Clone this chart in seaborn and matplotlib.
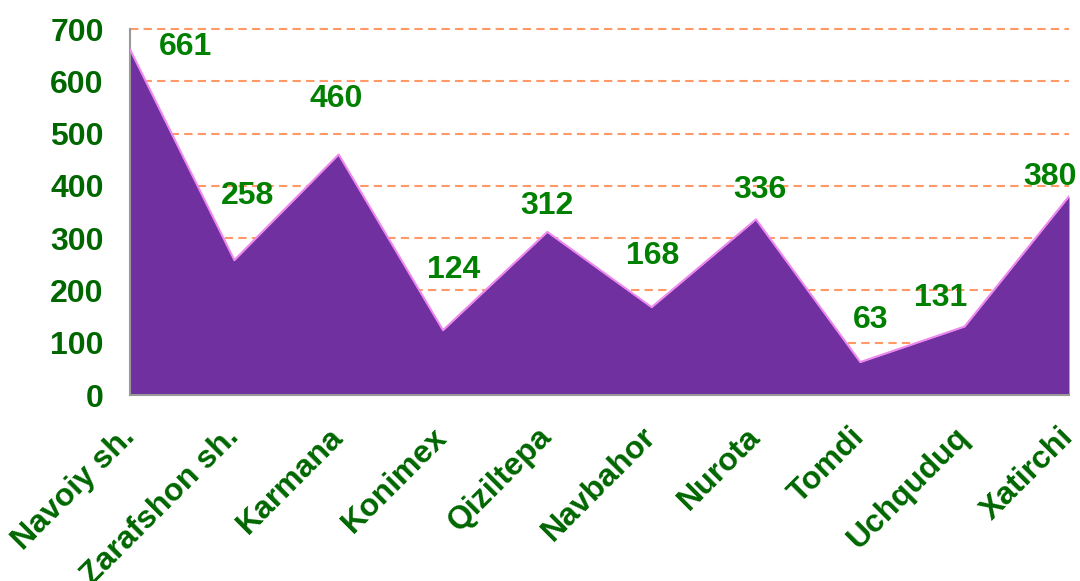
import numpy as np
import pandas as pd
import seaborn as sns
import matplotlib.pyplot as plt

districts = ["Navoiy sh.", "Zarafshon sh.", "Karmana", "Konimex", "Qiziltepa",
             "Navbahor", "Nurota", "Tomdi", "Uchquduq", "Xatirchi"]
values = [661, 258, 460, 124, 312, 168, 336, 63, 131, 380]
y_ticks = [0, 100, 200, 300, 400, 500, 600, 700]

# label offsets in pixels (dx, dy) to mimic the original label placement
label_offsets = [(55, 2), (13, 64), (-3, 56), (11, 60), (0, 26),
                 (1, 51), (4, 29), (10, 42), (-24, 29), (-19, 19)]

data = pd.DataFrame({"district": districts, "value": values})
data["pos"] = np.arange(len(data))

sns.set_theme(style="white")
plt.rcParams["font.family"] = ["Liberation Sans", "DejaVu Sans"]

fig = plt.figure(figsize=(10.8, 5.81), dpi=100)
ax = fig.add_axes([0.1204, 0.3201, 0.8694, 0.6299])

ax.fill_between(data["pos"], data["value"], 0, color="#7030A0", zorder=2, linewidth=0)
sns.lineplot(data=data, x="pos", y="value", ax=ax, color="#EE88EE", linewidth=1.5, zorder=3)

for yt in y_ticks[1:]:
    ax.axhline(yt, color="#FF9966", linestyle=(0, (4, 2.5)), linewidth=1.5, zorder=1, clip_on=False)

ax.set_xlim(0, len(data) - 1)
ax.set_ylim(0, 700)
ax.set_yticks(y_ticks)
ax.set_yticklabels([str(t) for t in y_ticks], fontsize=23, fontweight="bold", color="#006600")
ax.set_xticks(data["pos"])
ax.set_xticklabels(data["district"], rotation=45, ha="right", va="center", rotation_mode="anchor",
                   fontsize=23, fontweight="bold", color="#006600")
ax.set_xlabel("")
ax.set_ylabel("")

for s in ["top", "right"]:
    ax.spines[s].set_visible(False)
for s in ["left", "bottom"]:
    ax.spines[s].set_color("#999999")
    ax.spines[s].set_linewidth(1.5)
ax.tick_params(axis="both", direction="out", length=7, width=1.5, color="#999999")
ax.tick_params(axis="y", pad=12)
ax.tick_params(axis="x", pad=20)

for (i, row), (dx, dy) in zip(data.iterrows(), label_offsets):
    ax.annotate(str(row["value"]), (row["pos"], row["value"]),
                xytext=(dx * 0.72, dy * 0.72), textcoords="offset points",
                ha="center", va="center", fontsize=23, fontweight="bold",
                color="#008000", zorder=5, annotation_clip=False)

fig.savefig("out.png", dpi=100)
